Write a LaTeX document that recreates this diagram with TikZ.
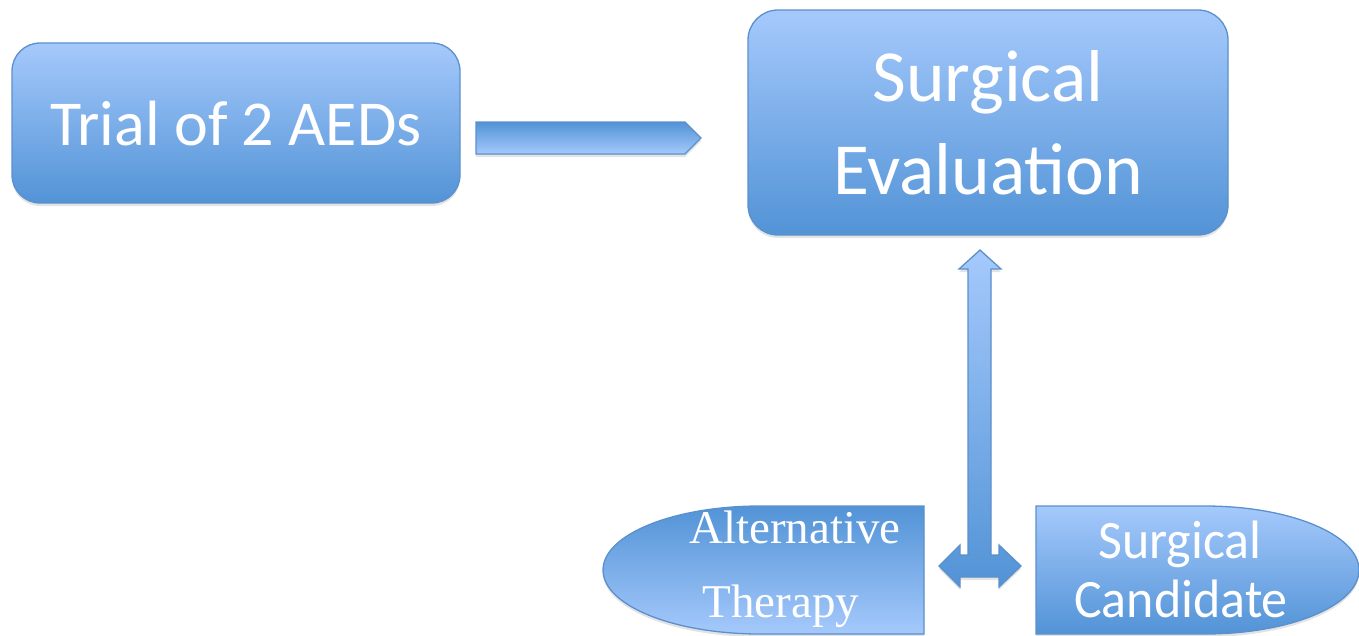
\documentclass[tikz,border=0pt]{standalone}
\usepackage{fontspec}
\setmainfont{Carlito}
\newfontfamily\serifface{Liberation Serif}
\usetikzlibrary{shadows}
\definecolor{lightb}{HTML}{A5C9FC}
\definecolor{darkb}{HTML}{5293D6}
\definecolor{edgeb}{HTML}{5B90CC}
\tikzset{
  softshadow/.style={drop shadow={opacity=0.22, shadow xshift=0pt, shadow yshift=-3pt}},
  shapeup/.style={draw=edgeb, line width=1.3pt, top color=lightb, bottom color=darkb, softshadow},
  shapedown/.style={draw=edgeb, line width=1.3pt, top color=darkb, bottom color=lightb, softshadow},
  boxnode/.style={shapeup, rounded corners=28pt, inner sep=0pt},
  whitetext/.style={text=white, inner sep=0pt, anchor=base}
}
\begin{document}
\begin{tikzpicture}[x=1pt,y=-1pt]
\useasboundingbox (0,0) rectangle (1359,635);
\begin{scope}
\clip (0,0) rectangle (1359,635);

% top boxes
\node[boxnode, minimum width=448pt, minimum height=160pt] (trialbox) at (236,123) {};
\node[boxnode, rounded corners=30pt, minimum width=480pt, minimum height=225pt] (evalbox) at (988,122.5) {};

% right block arrow
\draw[shapedown] (476,122) -- (685,122) -- (701,138) -- (685,154) -- (476,154) -- cycle;

% up / left-right block arrow
\draw[shapeup] (980,250) -- (1001,269) -- (991,269) -- (991,555) -- (999,555) -- (999,545)
  -- (1021,566) -- (999,587) -- (999,577) -- (960,577) -- (960,587) -- (939,566)
  -- (960,545) -- (960,555) -- (968,555) -- (968,269) -- (959,269) -- cycle;

% Alternative Therapy shape
\draw[shapedown] (760,506) -- (924,506) -- (924,634) -- (760,634)
  arc[start angle=90, end angle=270, x radius=157, y radius=64] -- cycle;
\coordinate (altc) at (800,570);

% Surgical Candidate shape
\draw[shapeup] (1205,506) -- (1036,506) -- (1036,634) -- (1205,634)
  arc[start angle=90, end angle=-90, x radius=154, y radius=64] -- cycle;
\coordinate (candc) at (1180,570);
\end{scope}

% texts
\node[whitetext, font=\fontsize{64}{70}\selectfont] (trialtxt) at (236,145) {Trial of 2 AEDs};
\node[whitetext, font=\fontsize{73.5}{80}\selectfont] (evaltxt1) at (988,101) {Surgical};
\node[whitetext, font=\fontsize{73.5}{80}\selectfont] (evaltxt2) at (988,194) {Evaluation};
\node[whitetext, font=\serifface\fontsize{47}{52}\selectfont] (alttxt1) at (795,543) {Alternative};
\node[whitetext, font=\serifface\fontsize{47}{52}\selectfont] (alttxt2) at (781,617) {Therapy};
\node[whitetext, font=\fontsize{52}{58}\selectfont, yscale=1.04] (candtxt1) at (1180,558) {Surgical};
\node[whitetext, font=\fontsize{52}{58}\selectfont, yscale=1.04] (candtxt2) at (1181,617) {Candidate};
\end{tikzpicture}
\end{document}
